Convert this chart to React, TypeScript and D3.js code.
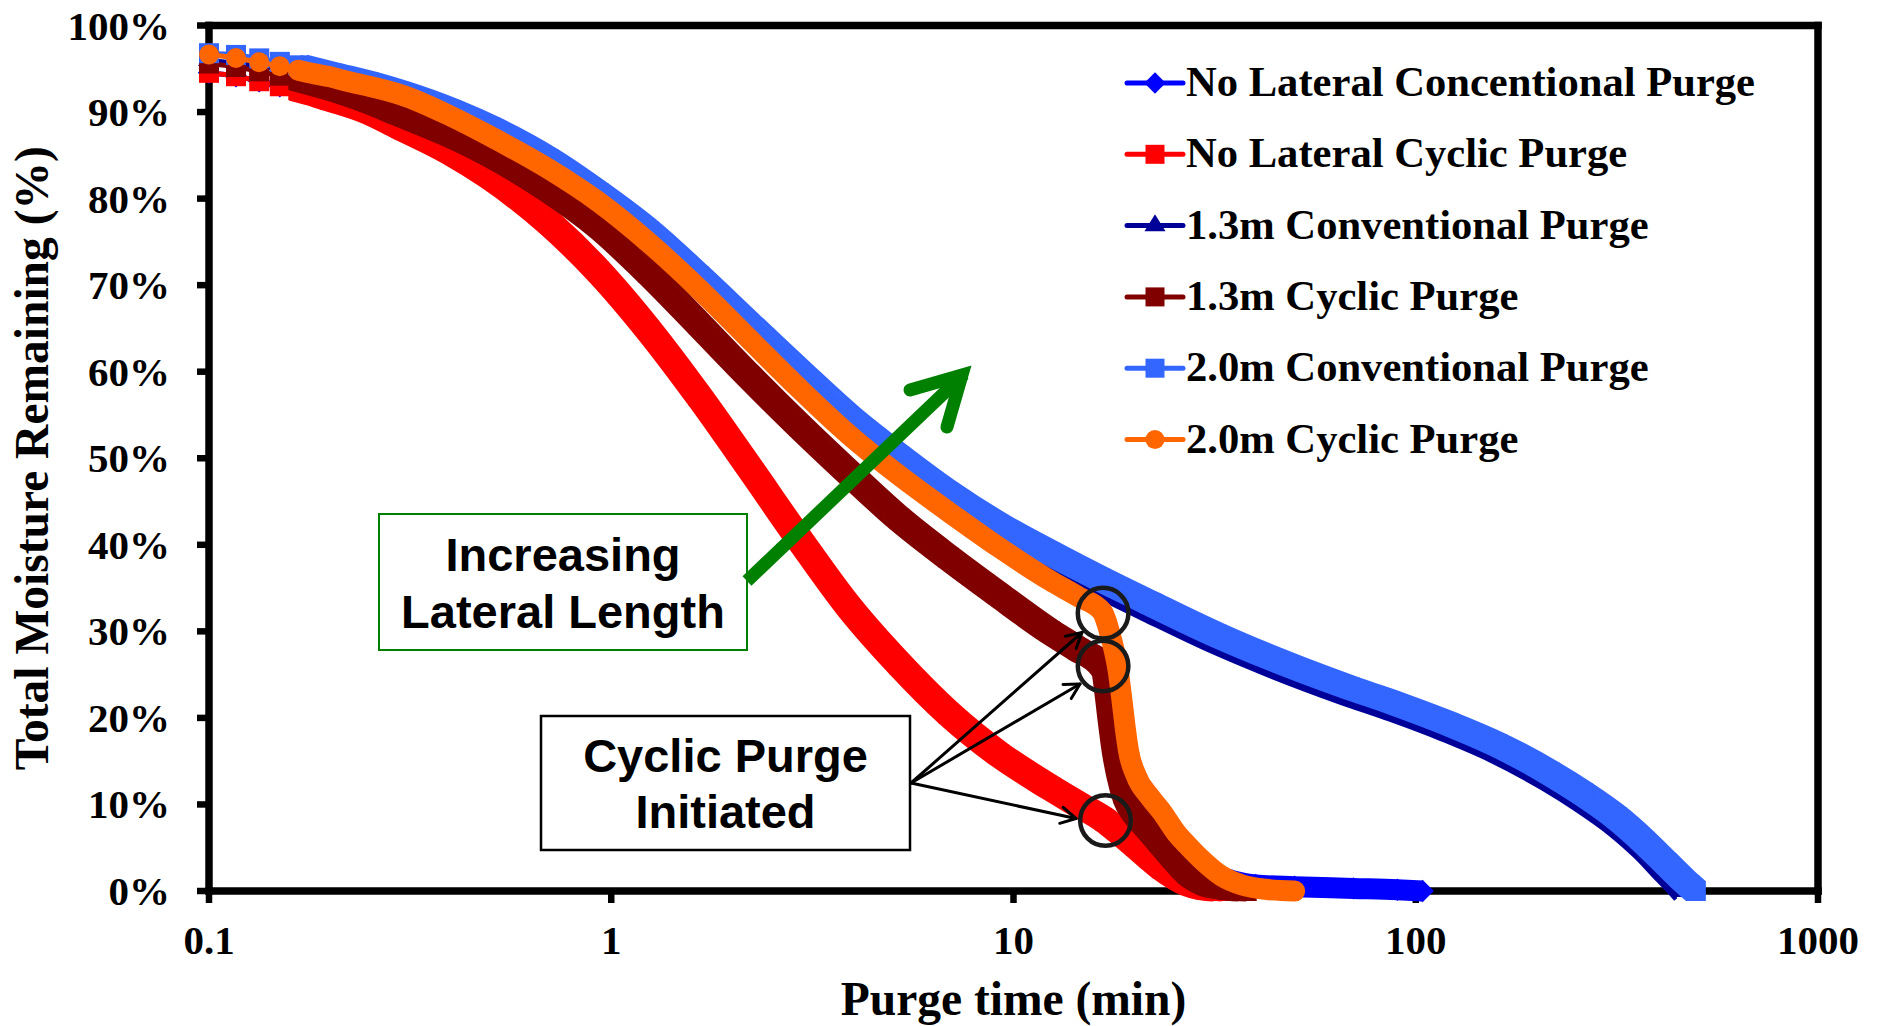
import React from 'react';
import * as d3 from 'd3';

const WIDTH = 1881;
const HEIGHT = 1026;

// ---------------- Axis ticks ----------------
const xTickValues = [0.1, 1, 10, 100, 1000];
const xTickLabels = ['0.1', '1', '10', '100', '1000'];
const yTickValues = [0, 0.1, 0.2, 0.3, 0.4, 0.5, 0.6, 0.7, 0.8, 0.9, 1.0];
const yTickLabels = ['0%', '10%', '20%', '30%', '40%', '50%', '60%', '70%', '80%', '90%', '100%'];

// ---------------- Series (time in min, fraction of moisture remaining) ----------------
const seriesNames = [
  'No Lateral Concentional Purge',
  'No Lateral Cyclic Purge',
  '1.3m Conventional Purge',
  '1.3m Cyclic Purge',
  '2.0m Conventional Purge',
  '2.0m Cyclic Purge',
];

const noLatConvTime = [0.1, 0.1167, 0.1333, 0.15, 0.1667, 0.1833, 0.2, 0.2167, 0.25, 0.3, 0.4, 0.5, 0.7, 0.93, 1.24, 1.65, 2.2, 2.94, 3.9, 5.2, 6.9, 9.2, 12.3, 14.5, 16.9, 18.5, 20.2, 23, 26, 30, 35, 40, 50, 70, 90, 104];
const noLatConvValue = [0.9453, 0.9414, 0.9356, 0.9298, 0.9252, 0.9202, 0.9145, 0.9098, 0.9, 0.882, 0.853, 0.825, 0.772, 0.716, 0.648, 0.572, 0.49, 0.406, 0.328, 0.262, 0.205, 0.158, 0.12, 0.1, 0.0815, 0.07, 0.06, 0.045, 0.033, 0.022, 0.012, 0.007, 0.005, 0.003, 0.0015, 0.0];

const noLatCyclicTime = [0.1, 0.1167, 0.1333, 0.15, 0.1667, 0.1833, 0.2, 0.2167, 0.25, 0.3, 0.4, 0.5, 0.7, 0.93, 1.24, 1.65, 2.2, 2.94, 3.9, 5.2, 6.9, 9.2, 12.3, 14.5, 16.9, 18.5, 20.2, 22, 23.5, 25.5, 27.5, 30, 33];
const noLatCyclicValue = [0.9453, 0.9414, 0.9356, 0.9298, 0.9252, 0.9202, 0.9145, 0.9098, 0.9, 0.882, 0.853, 0.825, 0.772, 0.716, 0.648, 0.572, 0.49, 0.406, 0.328, 0.262, 0.205, 0.158, 0.12, 0.1, 0.0815, 0.067, 0.052, 0.037, 0.026, 0.015, 0.007, 0.002, 0.0];

const lat13ConvTime = [0.1, 0.1667, 0.3, 0.5, 0.7, 0.93, 1.24, 1.65, 2.2, 2.94, 3.9, 5.2, 6.9, 9.2, 12.3, 16.4, 22, 32, 45, 68.5, 90, 121.5, 160, 215, 260, 316, 370, 420, 445, 465];
const lat13ConvValue = [0.96, 0.946, 0.915, 0.874, 0.837, 0.798, 0.754, 0.702, 0.647, 0.592, 0.54, 0.494, 0.452, 0.415, 0.383, 0.353, 0.324, 0.288, 0.259, 0.227, 0.208, 0.185, 0.161, 0.129, 0.105, 0.077, 0.049, 0.022, 0.01, 0.0];

const lat13CyclicTime = [0.1, 0.1167, 0.1333, 0.15, 0.1667, 0.2, 0.25, 0.3, 0.4, 0.5, 0.7, 0.93, 1.24, 1.65, 2.2, 2.94, 3.9, 5.2, 6.9, 9.2, 12.3, 14.5, 16.6, 16.9, 17.2, 17.6, 18.1, 18.8, 19.8, 21.2, 22.8, 24.8, 27.2, 30, 34, 38];
const lat13CyclicValue = [0.956, 0.952, 0.947, 0.942, 0.937, 0.927, 0.912, 0.897, 0.873, 0.851, 0.81, 0.768, 0.714, 0.655, 0.595, 0.537, 0.483, 0.43, 0.385, 0.342, 0.3, 0.279, 0.26, 0.235, 0.205, 0.17, 0.14, 0.112, 0.093, 0.077, 0.06, 0.04, 0.02, 0.008, 0.002, 0.0];

const lat20ConvTime = [0.1, 0.1167, 0.1333, 0.15, 0.1667, 0.2, 0.25, 0.3, 0.4, 0.5, 0.7, 0.93, 1.24, 1.65, 2.2, 2.94, 3.9, 5.2, 6.9, 9.2, 12.3, 16.4, 22, 32, 45, 68.5, 90, 121.5, 160, 215, 260, 316, 370, 420, 460, 480, 497];
const lat20ConvValue = [0.968, 0.966, 0.962, 0.958, 0.954, 0.945, 0.934, 0.923, 0.902, 0.882, 0.845, 0.806, 0.762, 0.71, 0.655, 0.6, 0.548, 0.502, 0.46, 0.423, 0.391, 0.361, 0.332, 0.296, 0.267, 0.235, 0.216, 0.193, 0.169, 0.137, 0.113, 0.085, 0.057, 0.032, 0.014, 0.006, 0.0];

const lat20CyclicTime = [0.1, 0.1167, 0.1333, 0.15, 0.1667, 0.1833, 0.2, 0.2167, 0.2333, 0.25, 0.3, 0.4, 0.5, 0.7, 0.93, 1.24, 1.65, 2.2, 2.94, 3.9, 5.2, 6.9, 9.2, 12.3, 14.5, 16.6, 17.0, 17.4, 17.8, 18.2, 18.6, 19.0, 19.3, 20.2, 21.8, 23.5, 25.3, 27.3, 29.4, 33, 37, 42.3, 50];
const lat20CyclicValue = [0.9665, 0.9624, 0.9575, 0.9529, 0.9483, 0.9441, 0.9407, 0.9364, 0.9329, 0.9298, 0.92, 0.895, 0.872, 0.834, 0.796, 0.749, 0.696, 0.638, 0.58, 0.527, 0.48, 0.438, 0.397, 0.359, 0.34, 0.323, 0.312, 0.296, 0.278, 0.255, 0.221, 0.185, 0.163, 0.133, 0.109, 0.09, 0.068, 0.051, 0.036, 0.017, 0.007, 0.002, 0.0];

// Points where cyclic purge starts (circled in the chart)
const cyclicStartTime = [16.7, 16.7, 16.93];
const cyclicStartValue = [0.321, 0.26, 0.0815];

// ---------------- Styles ----------------
const seriesColors = ['#0000FF', '#FF0000', '#000099', '#800000', '#3366FF', '#FF6600'];
const seriesMarkers = ['diamond', 'square', 'triangle', 'square', 'square', 'circle'];

const serif = "'Liberation Serif', 'Times New Roman', Times, serif";
const sans = "'Liberation Sans', Arial, Helvetica, sans-serif";

const BAND_START = 0.16; // markers overlap into a continuous band from here on

function markerPath(type: string, s: number): string {
  if (type === 'square') return `M${-s / 2},${-s / 2}h${s}v${s}h${-s}Z`;
  if (type === 'diamond') {
    const h = s * 0.56;
    return `M0,${-h}L${h},0L0,${h}L${-h},0Z`;
  }
  if (type === 'triangle') {
    const H = s * 0.9;
    return `M0,${(-2 * H) / 3}L${s / 2 + 1},${H / 3}L${-s / 2 - 1},${H / 3}Z`;
  }
  const r = s / 2;
  return `M${r},0A${r},${r} 0 1,1 ${-r},0A${r},${r} 0 1,1 ${r},0Z`;
}

export default function App() {
  const x = d3.scaleLog().domain([0.1, 1000]).range([209, 1818]);
  const y = d3.scaleLinear().domain([0, 1]).range([891, 25.5]);
  const line = d3
    .line<[number, number]>()
    .x((d) => x(d[0]))
    .y((d) => y(d[1]))
    .curve(d3.curveMonotoneX);

  const seriesData: [number, number][][] = [
    noLatConvTime.map((t, i) => [t, noLatConvValue[i]] as [number, number]),
    noLatCyclicTime.map((t, i) => [t, noLatCyclicValue[i]] as [number, number]),
    lat13ConvTime.map((t, i) => [t, lat13ConvValue[i]] as [number, number]),
    lat13CyclicTime.map((t, i) => [t, lat13CyclicValue[i]] as [number, number]),
    lat20ConvTime.map((t, i) => [t, lat20ConvValue[i]] as [number, number]),
    lat20CyclicTime.map((t, i) => [t, lat20CyclicValue[i]] as [number, number]),
  ];

  const axisW = 7.5;
  const left = x(0.1);
  const right = x(1000);
  const top = y(1);
  const bottom = y(0);

  // legend layout
  const legX1 = 1127;
  const legX2 = 1183;
  const legTextX = 1186;
  const legY0 = 83;
  const legStep = 71.3;

  // annotation arrows
  const arrowOrigin: [number, number] = [911, 783];
  const arrowTargets: [number, number][] = [
    [1082, 632.5],
    [1080, 684],
    [1076, 818.5],
  ];

  return (
    <svg
      width={WIDTH}
      height={HEIGHT}
      viewBox={`0 0 ${WIDTH} ${HEIGHT}`}
      style={{ position: 'absolute', left: 0, top: 0, background: '#fff', display: 'block' }}
    >
      <rect x={0} y={0} width={WIDTH} height={HEIGHT} fill="#fff" />

      {/* frame */}
      <g stroke="#000" strokeWidth={axisW} strokeLinecap="square" fill="none">
        <line x1={left} y1={top} x2={right} y2={top} />
        <line x1={right} y1={top} x2={right} y2={bottom} />
        <line x1={left} y1={top} x2={left} y2={bottom} />
        <line x1={left} y1={bottom} x2={right} y2={bottom} />
      </g>
      {/* y ticks */}
      <g stroke="#000" strokeWidth={6.5}>
        {yTickValues.map((v) => (
          <line key={v} x1={197} x2={left} y1={y(v)} y2={y(v)} />
        ))}
      </g>
      {/* x ticks */}
      <g stroke="#000" strokeWidth={6.5}>
        {xTickValues.map((t) => (
          <line key={t} x1={x(t)} x2={x(t)} y1={bottom} y2={bottom + 12} />
        ))}
      </g>
      {/* y tick labels */}
      <g fontFamily={serif} fontWeight="bold" fontSize={41} textAnchor="end" fill="#000">
        {yTickValues.map((v, i) => (
          <text key={v} x={170} y={y(v) + 14}>
            {yTickLabels[i]}
          </text>
        ))}
      </g>
      {/* x tick labels */}
      <g fontFamily={serif} fontWeight="bold" fontSize={41} textAnchor="middle" fill="#000">
        {xTickValues.map((t, i) => (
          <text key={t} x={x(t)} y={954}>
            {xTickLabels[i]}
          </text>
        ))}
      </g>
      {/* axis titles */}
      <text
        x={(left + right) / 2}
        y={1015}
        fontFamily={serif}
        fontWeight="bold"
        fontSize={47.5}
        textAnchor="middle"
      >
        Purge time (min)
      </text>
      <text
        transform={`translate(48,${(top + bottom) / 2}) rotate(-90)`}
        fontFamily={serif}
        fontWeight="bold"
        fontSize={47.5}
        textAnchor="middle"
      >
        Total Moisture Remaining (%)
      </text>

      {/* series */}
      {seriesData.map((pts, si) => {
        const color = seriesColors[si];
        const mk = seriesMarkers[si];
        const band = pts.filter((p) => p[0] >= BAND_START);
        const bandD = line(band) || '';
        const isSquareLike = mk === 'square' || mk === 'triangle';
        return (
          <g key={si}>
            <path d={line(pts) || ''} fill="none" stroke={color} strokeWidth={5} strokeLinejoin="round" />
            <path
              d={bandD}
              fill="none"
              stroke={color}
              strokeWidth={mk === 'circle' ? 21 : 21}
              strokeLinejoin="round"
              strokeLinecap={mk === 'circle' ? 'round' : 'butt'}
            />
            {isSquareLike && (
              <>
                <path d={bandD} transform="translate(8.5,-8.5)" fill="none" stroke={color} strokeWidth={4} strokeLinejoin="round" />
                <path d={bandD} transform="translate(-8.5,8.5)" fill="none" stroke={color} strokeWidth={4} strokeLinejoin="round" />
              </>
            )}
            {pts.map((p, i) => (
              <path
                key={i}
                d={markerPath(mk, 20)}
                transform={`translate(${x(p[0])},${y(p[1])})`}
                fill={color}
              />
            ))}
          </g>
        );
      })}

      {/* green annotation box */}
      <rect x={379} y={514} width={368} height={136} fill="#fff" stroke="#008000" strokeWidth={2} />
      <g fontFamily={sans} fontWeight="bold" fontSize={47} textAnchor="middle" fill="#000">
        <text x={563} y={571}>Increasing</text>
        <text x={563} y={628}>Lateral Length</text>
      </g>

      {/* green arrow */}
      <g stroke="#008000" fill="none">
        <line x1={747} y1={581} x2={964} y2={374} strokeWidth={13} strokeLinecap="butt" />
        <polyline
          points="910,390 962,375 947,427"
          strokeWidth={13}
          strokeLinecap="round"
          strokeLinejoin="miter"
          strokeMiterlimit={10}
        />
      </g>

      {/* cyclic purge box */}
      <rect x={541} y={716} width={369} height={134} fill="#fff" stroke="#000" strokeWidth={2.5} />
      <g fontFamily={sans} fontWeight="bold" fontSize={47} textAnchor="middle" fill="#000">
        <text x={725.5} y={772}>Cyclic Purge</text>
        <text x={725.5} y={828}>Initiated</text>
      </g>

      {/* black arrows */}
      <g stroke="#000" strokeWidth={3} fill="none" strokeLinecap="round" strokeLinejoin="round">
        {arrowTargets.map((tp, i) => {
          const dx = tp[0] - arrowOrigin[0];
          const dy = tp[1] - arrowOrigin[1];
          const ang = Math.atan2(dy, dx);
          const L = 17;
          const a1 = ang + Math.PI - 0.5;
          const a2 = ang + Math.PI + 0.5;
          return (
            <g key={i}>
              <line x1={arrowOrigin[0]} y1={arrowOrigin[1]} x2={tp[0]} y2={tp[1]} />
              <polyline
                points={`${tp[0] + L * Math.cos(a1)},${tp[1] + L * Math.sin(a1)} ${tp[0]},${tp[1]} ${tp[0] + L * Math.cos(a2)},${tp[1] + L * Math.sin(a2)}`}
              />
            </g>
          );
        })}
      </g>

      {/* circles marking cyclic purge start */}
      <g fill="none" stroke="#1a1a1a" strokeWidth={4.5}>
        {cyclicStartTime.map((t, i) => (
          <circle key={i} cx={x(t)} cy={y(cyclicStartValue[i])} r={25.3} />
        ))}
      </g>

      {/* legend */}
      {seriesNames.map((name, i) => {
        const cy = legY0 + i * legStep;
        return (
          <g key={name}>
            <line x1={legX1} x2={legX2} y1={cy} y2={cy} stroke={seriesColors[i]} strokeWidth={5} strokeLinecap="round" />
            <path d={markerPath(seriesMarkers[i], 19)} transform={`translate(${(legX1 + legX2) / 2},${cy})`} fill={seriesColors[i]} />
            <text x={legTextX} y={cy + 13} fontFamily={serif} fontWeight="bold" fontSize={42.6} fill="#000">
              {name}
            </text>
          </g>
        );
      })}
    </svg>
  );
}
